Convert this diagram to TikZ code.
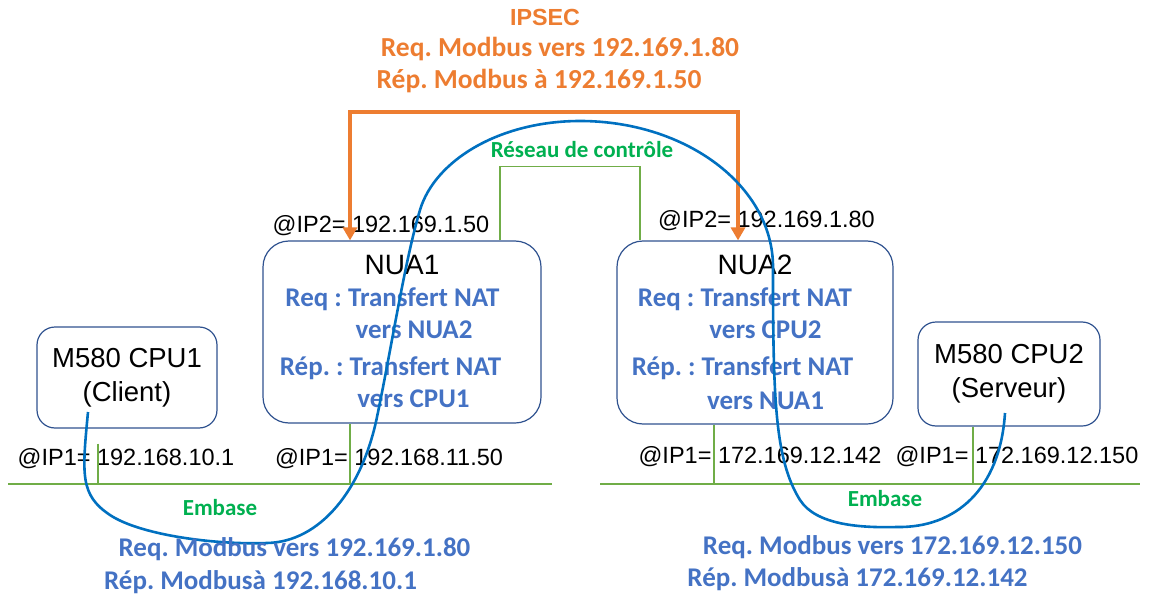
\documentclass[tikz,border=0pt]{standalone}
\usepackage{fontspec}
\setmainfont{Liberation Sans}
\newfontfamily\calibri{Carlito}
\usetikzlibrary{arrows.meta,positioning,calc}
\definecolor{boxblue}{RGB}{47,82,143}
\definecolor{natblue}{RGB}{68,114,196}
\definecolor{flowblue}{RGB}{0,112,192}
\definecolor{busgreen}{RGB}{112,173,71}
\definecolor{txtgreen}{RGB}{0,176,80}
\definecolor{ipsecorange}{RGB}{237,125,49}
\frenchspacing

\begin{document}
\begin{tikzpicture}[x=1pt,y=-1pt,
box/.style={draw=boxblue,line width=1.2pt,rounded corners=18pt,inner sep=0pt,align=center,
font=\fontsize{27.5}{34}\selectfont},
title/.style={font=\fontsize{28}{30}\selectfont,inner sep=0pt,anchor=base},
ip/.style={font=\fontsize{23.5}{26}\selectfont,inner sep=0pt,anchor=base},
nat/.style={text=natblue,font=\calibri\bfseries\fontsize{27}{30}\selectfont,inner sep=0pt,anchor=base},
ipsectxt/.style={text=ipsecorange,font=\calibri\bfseries\fontsize{27.5}{30}\selectfont,inner sep=0pt,anchor=base},
net/.style={text=txtgreen,font=\calibri\bfseries\fontsize{23}{26}\selectfont,inner sep=0pt,anchor=base},
bus/.style={draw=busgreen,line width=1.6pt},
ipsec/.style={draw=ipsecorange,line width=4.2pt,{Triangle[length=13pt,width=14pt]}-{Triangle[length=13pt,width=14pt]}},
flow/.style={draw=flowblue,line width=2.6pt}
]
\useasboundingbox (0,0) rectangle (1158,596);

% boxes
\node[box,minimum width=180pt,minimum height=101pt] (cpu1) at (127,377.5) {M580 CPU1\\(Client)};
\node[box,minimum width=278pt,minimum height=182pt,rounded corners=26pt] (nua1) at (402,332) {};
\node[box,minimum width=276pt,minimum height=183pt,rounded corners=26pt] (nua2) at (755,332.5) {};
\node[box,minimum width=182pt,minimum height=104pt] (cpu2) at (1009,374) {M580 CPU2\\(Serveur)};

% NUA texts
\node[title] (nua1t) at (402,274) {NUA1};
\node[nat] (nua1a) at (392.5,306) {Req : Transfert NAT};
\node[nat] (nua1b) at (414,338) {vers NUA2};
\node[nat] (nua1c) at (390.5,375) {Rép. : Transfert NAT};
\node[nat] (nua1d) at (413.5,407) {vers CPU1};
\node[title] (nua2t) at (755,274) {NUA2};
\node[nat] (nua2a) at (745,306) {Req : Transfert NAT};
\node[nat] (nua2b) at (765.5,338) {vers CPU2};
\node[nat] (nua2c) at (742.5,375) {Rép. : Transfert NAT};
\node[nat] (nua2d) at (765.5,409) {vers NUA1};

% addresses
\node[ip] (ip2a) at (381,232) {@IP2= 192.169.1.50};
\node[ip] (ip2b) at (766.5,227) {@IP2= 192.169.1.80};
\node[ip] (ip1a) at (126,465) {@IP1= 192.168.10.1};
\node[ip] (ip1b) at (389,465) {@IP1= 192.168.11.50};
\node[ip] (ip1c) at (760,463) {@IP1= 172.169.12.142};
\node[ip] (ip1d) at (1017,463) {@IP1= 172.169.12.150};

% embase and control network
\coordinate (busL1) at (8,484);
\coordinate (busL2) at (552,484);
\coordinate (busR1) at (600,484);
\coordinate (busR2) at (1140,484);
\draw[bus] (busL1) -- (busL2);
\draw[bus] (busR1) -- (busR2);
\draw[bus] ($(cpu1.south)+(-29,15)$) -- ++(0,41);
\draw[bus] ($(nua1.south)+(-52,0)$) -- ++(0,61);
\draw[bus] ($(nua2.south)+(-41,0)$) -- ++(0,60);
\draw[bus] ($(cpu2.south)+(-36,0)$) -- ++(0,58);
\draw[bus] ($(nua1.north)+(98,0)$) -- ++(0,-74) -| ($(nua2.north)+(-115,0)$);
\node[net] (ctl) at (582,158) {Réseau de contrôle};
\node[net] (emb1) at (220,515) {Embase};
\node[net] (emb2) at (885,506) {Embase};

% IPSEC tunnel
\draw[ipsec] ($(nua1.north)+(-52,0)$) -- ++(0,-128) -| ($(nua2.north)+(-17,0)$);
\node[ip,text=ipsecorange,font=\bfseries\fontsize{23.3}{26}\selectfont] (ipsec) at (545,26) {IPSEC};
\node[ipsectxt] (ipsecq) at (560,57) {Req. Modbus vers 192.169.1.80};
\node[ipsectxt] (ipsecr) at (539,89) {Rép. Modbus à 192.169.1.50};

% modbus path
\coordinate (flowA) at (88,412);
\coordinate (flowB) at (1005,413);
\draw[flow] (flowA) .. controls (82,475) and (80,495) .. (110,515)
  .. controls (140,535) and (215,545) .. (267,543)
  .. controls (320,542) and (362,490) .. (377,417)
  .. controls (392,345) and (405,260) .. (420,210)
  .. controls (435,160) and (500,121) .. (580,121)
  .. controls (686,121) and (773,186) .. (773,267)
  .. controls (773,400) and (775,460) .. (800,500)
  .. controls (816,525) and (860,528) .. (897,527)
  .. controls (955,528) and (1000,490) .. (flowB);
\node[nat] (mbq1) at (294.5,556) {Req. Modbus vers 192.169.1.80};
\node[nat] (mbr1) at (260.5,589) {Rép. Modbusà 192.168.10.1};
\node[nat] (mbq2) at (892.5,554) {Req. Modbus vers 172.169.12.150};
\node[nat] (mbr2) at (857.5,586) {Rép. Modbusà 172.169.12.142};
\end{tikzpicture}
\end{document}
